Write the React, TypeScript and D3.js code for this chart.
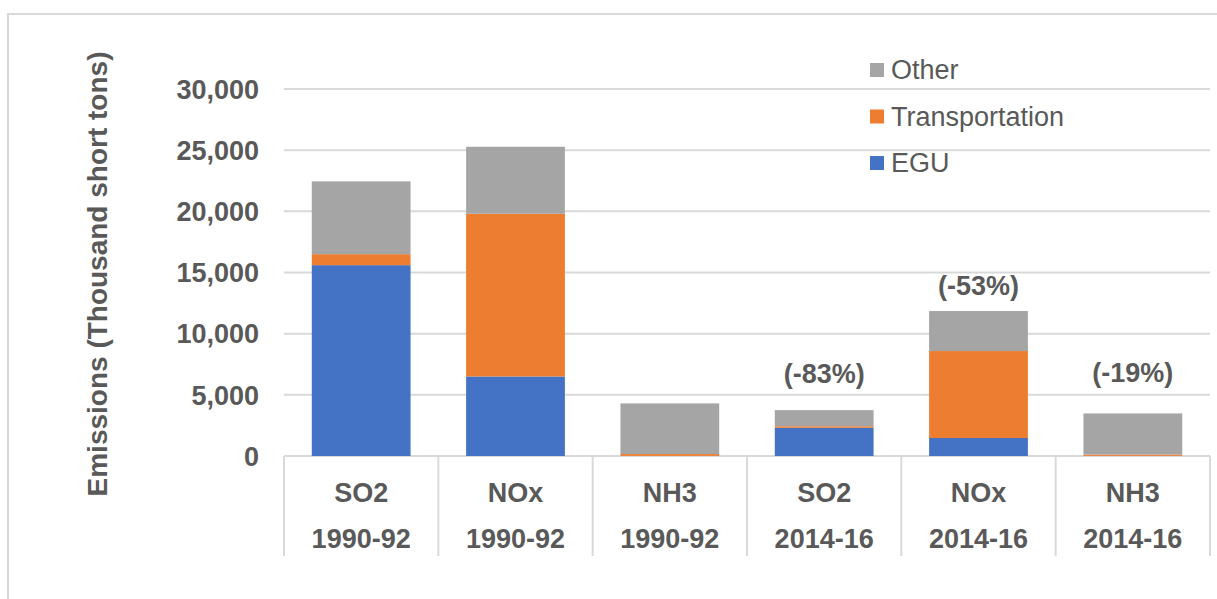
import React from "react";
import * as d3 from "d3";

// Emissions by pollutant and period (thousand short tons)
const categories = ["SO2|1990-92", "NOx|1990-92", "NH3|1990-92", "SO2|2014-16", "NOx|2014-16", "NH3|2014-16"];
const pollutants = ["SO2", "NOx", "NH3", "SO2", "NOx", "NH3"];
const periods = ["1990-92", "1990-92", "1990-92", "2014-16", "2014-16", "2014-16"];
const egu = [15600, 6500, 10, 2300, 1470, 10];
const transportation = [900, 13300, 150, 130, 7110, 110];
const other = [5950, 5480, 4140, 1320, 3270, 3360];

const seriesNames = ["EGU", "Transportation", "Other"];
const seriesColors = ["#4472C4", "#ED7D31", "#A5A5A5"];
const yTicks = [0, 5000, 10000, 15000, 20000, 25000, 30000];

// Percent-change annotations: later period index, earlier period index, value at which the label sits
const changeLater = [3, 4, 5];
const changeEarlier = [0, 1, 2];
const changeLabelAt = [5950, 13130, 6030];

const W = 1217;
const H = 599;
const TEXT = "#595959";
const GRID = "#D9D9D9";
const FONT = "'Liberation Sans', Arial, sans-serif";

export default function App() {
  const rows = categories.map((c, i) => ({
    key: c,
    EGU: egu[i],
    Transportation: transportation[i],
    Other: other[i],
  }));
  const totals = rows.map((r) => r.EGU + r.Transportation + r.Other);

  const x = d3
    .scaleBand<string>()
    .domain(categories)
    .range([284, 1210])
    .paddingInner(0.36)
    .paddingOuter(0.18);
  const step = x.step();
  const x0 = 284;
  const y = d3.scaleLinear().domain([0, 30000]).range([456, 89]);

  const stacked = d3.stack<any>().keys(seriesNames)(rows);
  const fmt = d3.format(",");

  const legendItems = [
    { name: "Other", color: seriesColors[2] },
    { name: "Transportation", color: seriesColors[1] },
    { name: "EGU", color: seriesColors[0] },
  ];

  return (
    <svg
      width={W}
      height={H}
      style={{ position: "absolute", left: 0, top: 0, display: "block", background: "#fff" }}
      fontFamily={FONT}
    >
      {/* chart frame */}
      <path d={`M8,${H + 2} V14 H${W + 2}`} fill="none" stroke={GRID} strokeWidth={2} />

      {/* gridlines */}
      {yTicks.map((t) => (
        <line key={t} x1={284} x2={1210} y1={y(t)} y2={y(t)} stroke={GRID} strokeWidth={2} />
      ))}

      {/* category dividers */}
      {d3.range(categories.length + 1).map((i) => (
        <line
          key={i}
          x1={x0 + i * step}
          x2={x0 + i * step}
          y1={y(0)}
          y2={556}
          stroke={GRID}
          strokeWidth={2}
        />
      ))}

      {/* stacked bars */}
      {stacked.map((layer, li) => (
        <g key={layer.key} fill={seriesColors[li]}>
          {layer.map((d, i) => (
            <rect
              key={i}
              x={x(categories[i])}
              width={x.bandwidth()}
              y={y(d[1])}
              height={Math.max(0, y(d[0]) - y(d[1]))}
            />
          ))}
        </g>
      ))}

      {/* y tick labels */}
      {yTicks.map((t) => (
        <text
          key={t}
          x={259}
          y={y(t)}
          dy="0.36em"
          textAnchor="end"
          fontSize={27}
          fontWeight="bold"
          fill={TEXT}
        >
          {fmt(t)}
        </text>
      ))}

      {/* y axis title */}
      <text
        transform="translate(107,274) rotate(-90)"
        textAnchor="middle"
        fontSize={28}
        fontWeight="bold"
        fill={TEXT}
      >
        Emissions (Thousand short tons)
      </text>

      {/* category labels */}
      {categories.map((c, i) => {
        const cx = (x(c) as number) + x.bandwidth() / 2;
        return (
          <g key={c} fontSize={27} fontWeight="bold" fill={TEXT} textAnchor="middle">
            <text x={cx} y={502}>{pollutants[i]}</text>
            <text x={cx} y={548}>{periods[i]}</text>
          </g>
        );
      })}

      {/* percent change labels */}
      {changeLater.map((li, k) => {
        const pct = Math.round((totals[li] / totals[changeEarlier[k]] - 1) * 100);
        const cx = (x(categories[li]) as number) + x.bandwidth() / 2;
        return (
          <text
            key={li}
            x={cx}
            y={y(changeLabelAt[k])}
            textAnchor="middle"
            fontSize={27}
            fontWeight="bold"
            fill={TEXT}
          >
            {`(${pct}%)`}
          </text>
        );
      })}

      {/* legend */}
      {legendItems.map((item, i) => {
        const cy = 70 + i * 46.5;
        return (
          <g key={item.name}>
            <rect x={870} y={cy - 7} width={14} height={14} fill={item.color} />
            <text x={891} y={cy} dy="0.35em" fontSize={27} fill={TEXT}>
              {item.name}
            </text>
          </g>
        );
      })}
    </svg>
  );
}
